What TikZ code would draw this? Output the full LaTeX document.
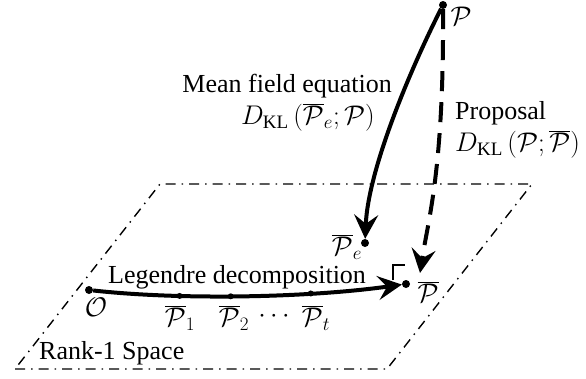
\RequirePackage{fix-cm}
\documentclass[tikz,border=0pt]{standalone}
\usepackage{fontspec}
\setmainfont{Liberation Serif}
\DeclareMathSizes{26}{27}{19}{14}
\usetikzlibrary{arrows.meta}
\begin{document}
\begin{tikzpicture}[x=1pt,y=-1pt,
  font=\fontsize{26}{30}\selectfont,
  dot/.style={circle,fill,inner sep=0pt,minimum size=8pt},
  smalldot/.style={circle,fill,inner sep=0pt,minimum size=6pt},
  plane/.style={line width=1.4pt,dash pattern=on 10pt off 6pt on 1.5pt off 6pt},
  bigarrow/.style={line width=4pt,-{Stealth[length=24pt,width=24pt,inset=9pt]}},
  dasharrow/.style={bigarrow,dash pattern=on 20pt off 11pt},
  txt/.style={inner sep=0pt}]
\useasboundingbox (0,0) rectangle (586,378);

% rank-1 plane
\coordinate (c1) at (15,369);
\coordinate (c2) at (387,369);
\coordinate (c3) at (532,184);
\coordinate (c4) at (160,184);
\draw[plane] (c1) -- (c2) -- (c3) -- (c4) -- cycle;
\node[txt,anchor=base west] (rank) at (39,359) {Rank-1 Space};

% points
\node[dot] (P) at (443,5) {};
\node[dot] (O) at (89,290) {};
\node[dot] (Pe) at (365,243) {};
\node[dot] (Pbar) at (406,284) {};
\coordinate (dashend) at (420,273);

% labels of points
\node[txt] (Plab) at (461,16) {$\mathcal{P}$};
\node[txt] (Olab) at (96,307) {$\mathcal{O}$};
\node[txt] (Pelab) at (347,247) {$\overline{\mathcal{P}}_e$};
\node[txt] (Pbarlab) at (428,292) {$\overline{\mathcal{P}}$};
\node[txt] (P1lab) at (180,318) {$\overline{\mathcal{P}}_1$};
\node[txt] (P2lab) at (234,318) {$\overline{\mathcal{P}}_2$};
\node[txt] (cdotslab) at (274,316) {$\cdots$};
\node[txt] (Ptlab) at (316,318) {$\overline{\mathcal{P}}_t$};

% mean field arrow
\draw[bigarrow] (P) .. controls +(-33,65) and +(3,-73) .. (Pe);
\node[txt,anchor=base east] (mf) at (392,92) {Mean field equation};
\node[txt,anchor=base east] (mfkl) at (375,124)
  {$D_{\mathrm{KL}}\left(\overline{\mathcal{P}}_e;\mathcal{P}\right)$};

% proposal arrow
\draw[dasharrow] (P) .. controls +(1,165) and +(8,-53) .. (dashend);
\node[txt,anchor=base west] (prop) at (455,119) {Proposal};
\node[txt,anchor=base west] (propkl) at (455,151)
  {$D_{\mathrm{KL}}\left(\mathcal{P};\overline{\mathcal{P}}\right)$};

% Legendre decomposition
\draw[bigarrow] (O) .. controls +(90,10) and +(-100,14) .. (Pbar)
  node[smalldot,pos=0.3] (P1) {}
  node[smalldot,pos=0.46] (P2) {}
  node[smalldot,pos=0.705] (Pt) {};
\node[txt,anchor=base west] (leg) at (108,283) {Legendre decomposition};

% right-angle marker
\draw[line width=1.6pt] ([shift={(-13,-4)}]Pbar.center) -- ++(0,-15) -- ++(12,0);
\end{tikzpicture}
\end{document}
